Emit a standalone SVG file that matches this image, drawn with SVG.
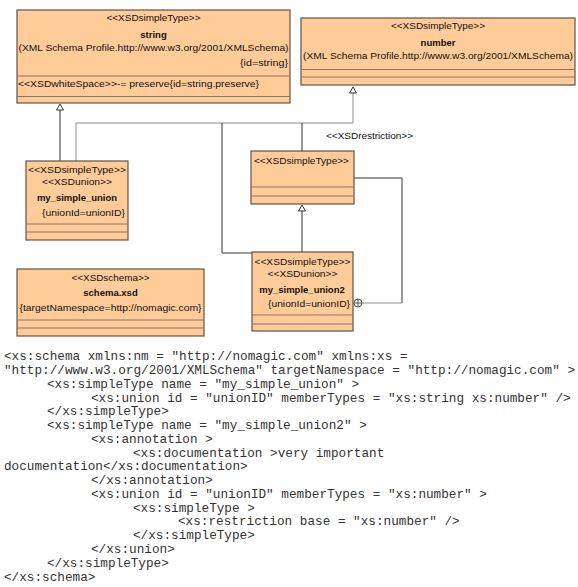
<svg xmlns="http://www.w3.org/2000/svg" width="578" height="587" viewBox="0 0 578 587">
<style>
.box{fill:#FFCC99;stroke:#5f5247;stroke-width:1.2}
.sep{stroke:#8a7560;stroke-width:1}
.t{font-family:"Liberation Sans",Arial,sans-serif;font-size:9.5px;fill:#111}
.b{font-weight:bold}
.c{text-anchor:middle}
.r{text-anchor:end}
.ln{fill:none;stroke:#333;stroke-width:1}
.lg{fill:none;stroke:#8c8c8c;stroke-width:1}
.tri{fill:#fff;stroke:#333;stroke-width:1}
.code{font-family:"Liberation Mono","Courier New",monospace;font-size:12.7px;fill:#333}
</style>
<g id="connectors">
<line class="ln" x1="60" y1="110" x2="60" y2="161"/>
<polygon class="tri" points="60,104 56.5,110 63.5,110"/>
<polyline class="lg" points="76,161 76,123 353,123 353,93"/>
<polygon class="tri" points="353,87 349.5,93 356.5,93"/>
<polyline class="ln" points="222,123 222,253 252,253"/>
<line class="ln" x1="302" y1="123" x2="302" y2="151"/>
<line class="ln" x1="302" y1="211" x2="302" y2="252"/>
<polygon class="tri" points="302,205 298.5,211 305.5,211"/>
<polyline class="ln" points="354,178 402,178 402,303"/>
<line class="lg" x1="362" y1="303" x2="402" y2="303"/>
<circle cx="358" cy="303" r="4" fill="#fff" stroke="#555" stroke-width="1"/>
<line x1="354" y1="303" x2="362" y2="303" stroke="#555" stroke-width="1"/>
<line x1="358" y1="299" x2="358" y2="307" stroke="#555" stroke-width="1"/>
<text class="t" x="326" y="139" textLength="87" lengthAdjust="spacingAndGlyphs">&lt;&lt;XSDrestriction&gt;&gt;</text>
</g>
<g id="string">
<rect class="box" x="17" y="10" width="273" height="93"/>
<line class="sep" x1="17" y1="76" x2="290" y2="76"/>
<line class="sep" x1="17" y1="96.5" x2="290" y2="96.5"/>
<text class="t c" x="153.5" y="20.5" textLength="94" lengthAdjust="spacingAndGlyphs">&lt;&lt;XSDsimpleType&gt;&gt;</text>
<text class="t b c" x="153.5" y="37.5">string</text>
<text class="t c" x="153.5" y="50.5" textLength="270" lengthAdjust="spacingAndGlyphs">(XML Schema Profile.http://www.w3.org/2001/XMLSchema)</text>
<text class="t" x="240" y="66" textLength="48" lengthAdjust="spacingAndGlyphs">{id=string}</text>
<text class="t" x="18" y="86.5" textLength="241" lengthAdjust="spacingAndGlyphs">&lt;&lt;XSDwhiteSpace&gt;&gt;-= preserve{id=string.preserve}</text>
</g>
<g id="number">
<rect class="box" x="301" y="18" width="274" height="67"/>
<line class="sep" x1="301" y1="69.5" x2="575" y2="69.5"/>
<line class="sep" x1="301" y1="77" x2="575" y2="77"/>
<text class="t c" x="438" y="28.5" textLength="94" lengthAdjust="spacingAndGlyphs">&lt;&lt;XSDsimpleType&gt;&gt;</text>
<text class="t b c" x="438" y="45.5">number</text>
<text class="t c" x="438" y="58.5" textLength="270" lengthAdjust="spacingAndGlyphs">(XML Schema Profile.http://www.w3.org/2001/XMLSchema)</text>
</g>
<g id="my_simple_union">
<rect class="box" x="26" y="161" width="102" height="79"/>
<line class="sep" x1="26" y1="224" x2="128" y2="224"/>
<line class="sep" x1="26" y1="232" x2="128" y2="232"/>
<text class="t c" x="77" y="172.5" textLength="98" lengthAdjust="spacingAndGlyphs">&lt;&lt;XSDsimpleType&gt;&gt;</text>
<text class="t c" x="77" y="184.5" textLength="70" lengthAdjust="spacingAndGlyphs">&lt;&lt;XSDunion&gt;&gt;</text>
<text class="t b c" x="77" y="200.5">my_simple_union</text>
<text class="t" x="42" y="215.5" textLength="83" lengthAdjust="spacingAndGlyphs">{unionId=unionID}</text>
</g>
<g id="anonymous_simpleType">
<rect class="box" x="251" y="151" width="103" height="53"/>
<line class="sep" x1="251" y1="187" x2="354" y2="187"/>
<line class="sep" x1="251" y1="196" x2="354" y2="196"/>
<text class="t" x="254" y="164" textLength="95" lengthAdjust="spacingAndGlyphs">&lt;&lt;XSDsimpleType&gt;&gt;</text>
</g>
<g id="my_simple_union2">
<rect class="box" x="252" y="252" width="101" height="79"/>
<line class="sep" x1="252" y1="315" x2="353" y2="315"/>
<line class="sep" x1="252" y1="324" x2="353" y2="324"/>
<text class="t c" x="302.5" y="264.5" textLength="96" lengthAdjust="spacingAndGlyphs">&lt;&lt;XSDsimpleType&gt;&gt;</text>
<text class="t c" x="302.5" y="276.5" textLength="70" lengthAdjust="spacingAndGlyphs">&lt;&lt;XSDunion&gt;&gt;</text>
<text class="t b c" x="302" y="292.5">my_simple_union2</text>
<text class="t" x="268" y="306.5" textLength="82" lengthAdjust="spacingAndGlyphs">{unionId=unionID}</text>
</g>
<g id="schema_xsd">
<rect class="box" x="17" y="269" width="187" height="67"/>
<line class="sep" x1="17" y1="320" x2="204" y2="320"/>
<line class="sep" x1="17" y1="328" x2="204" y2="328"/>
<text class="t c" x="110.5" y="280.5" textLength="78" lengthAdjust="spacingAndGlyphs">&lt;&lt;XSDschema&gt;&gt;</text>
<text class="t b c" x="110.5" y="295.5">schema.xsd</text>
<text class="t c" x="110.5" y="310.5" textLength="182" lengthAdjust="spacingAndGlyphs">{targetNamespace=http://nomagic.com}</text>
</g>
<g id="code">
<text class="code" x="4" y="360">&lt;xs:schema xmlns:nm = "http://nomagic.com" xmlns:xs =</text>
<text class="code" x="4" y="374">"http://www.w3.org/2001/XMLSchema" targetNamespace = "http://nomagic.com" &gt;</text>
<text class="code" x="47" y="388">&lt;xs:simpleType name = "my_simple_union" &gt;</text>
<text class="code" x="91" y="401.5">&lt;xs:union id = "unionID" memberTypes = "xs:string xs:number" /&gt;</text>
<text class="code" x="47" y="415">&lt;/xs:simpleType&gt;</text>
<text class="code" x="47" y="429">&lt;xs:simpleType name = "my_simple_union2" &gt;</text>
<text class="code" x="91" y="443">&lt;xs:annotation &gt;</text>
<text class="code" x="133" y="456.5">&lt;xs:documentation &gt;very important</text>
<text class="code" x="4" y="470">documentation&lt;/xs:documentation&gt;</text>
<text class="code" x="91" y="484">&lt;/xs:annotation&gt;</text>
<text class="code" x="91" y="498">&lt;xs:union id = "unionID" memberTypes = "xs:number" &gt;</text>
<text class="code" x="133" y="511.5">&lt;xs:simpleType &gt;</text>
<text class="code" x="178" y="525">&lt;xs:restriction base = "xs:number" /&gt;</text>
<text class="code" x="133" y="539">&lt;/xs:simpleType&gt;</text>
<text class="code" x="91" y="553">&lt;/xs:union&gt;</text>
<text class="code" x="47" y="567">&lt;/xs:simpleType&gt;</text>
<text class="code" x="4" y="581">&lt;/xs:schema&gt;</text>
</g>
</svg>
